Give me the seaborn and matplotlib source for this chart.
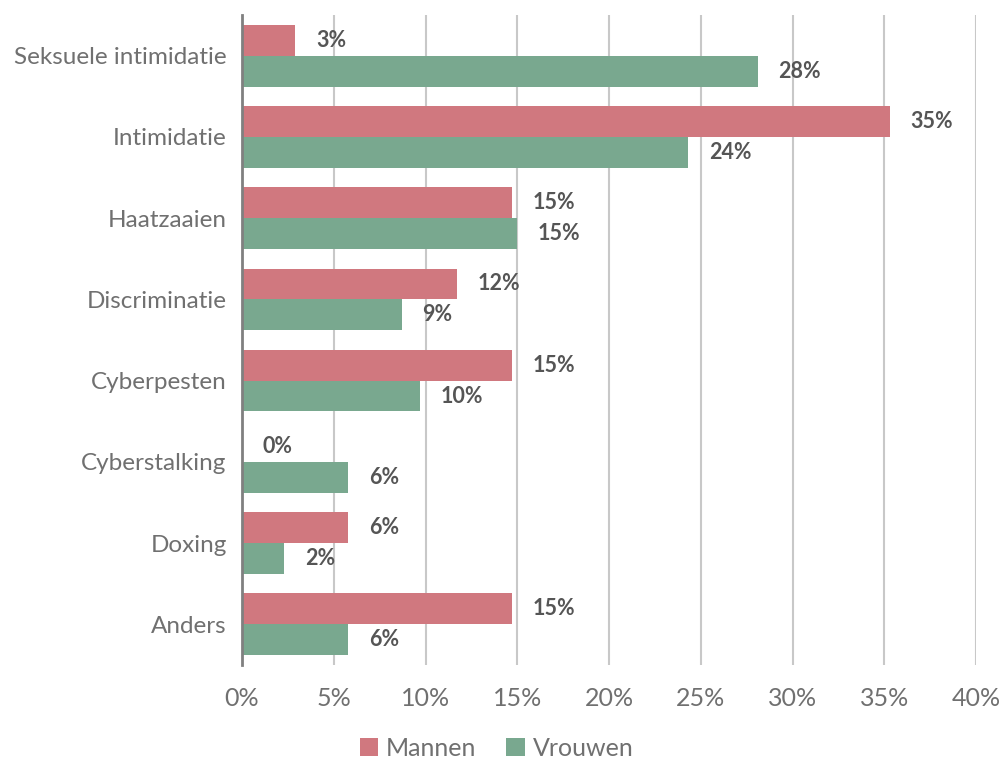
import matplotlib
matplotlib.use("Agg")
import matplotlib.pyplot as plt
import matplotlib.ticker as mticker
import seaborn as sns
import pandas as pd

# Share of respondents per type of online harassment, by gender (percent)
categories = ["Seksuele intimidatie", "Intimidatie", "Haatzaaien", "Discriminatie",
              "Cyberpesten", "Cyberstalking", "Doxing", "Anders"]
mannen = [2.9, 35.3, 14.7, 11.7, 14.7, 0.0, 5.8, 14.7]
vrouwen = [28.1, 24.3, 15.0, 8.7, 9.7, 5.8, 2.3, 5.8]
series = ["Mannen", "Vrouwen"]
colors = ["#D0787F", "#79A88F"]
x_ticks = [0, 5, 10, 15, 20, 25, 30, 35, 40]

df = pd.DataFrame({
    "categorie": categories * 2,
    "pct": mannen + vrouwen,
    "geslacht": [series[0]] * len(categories) + [series[1]] * len(categories),
})

sns.set_theme(style="white")
plt.rcParams["font.family"] = ["Lato", "DejaVu Sans"]

fig = plt.figure(figsize=(10.03, 7.58), dpi=100)
ax = fig.add_axes([0.2413, 0.1227, 0.7318, 0.8575])

sns.barplot(data=df, y="categorie", x="pct", hue="geslacht", order=categories,
            hue_order=series, palette=colors, orient="h", width=0.76,
            saturation=1, errorbar=None, linewidth=0, ax=ax)

for cont in ax.containers:
    ax.bar_label(cont, labels=[f"{v:.0f}%" for v in cont.datavalues],
                 padding=15, fontsize=15.5, fontweight="bold", color="#555555")

ax.set_xlim(0, 40)
ax.set_ylim(len(categories) - 0.5, -0.5)
ax.set_xticks(x_ticks)
ax.xaxis.set_major_formatter(mticker.FuncFormatter(lambda v, p: f"{v:.0f}%"))
ax.set_xlabel("")
ax.set_ylabel("")
ax.grid(axis="x", color="#C8C8C8", linewidth=1.5)
ax.set_axisbelow(True)
for side in ["top", "right", "bottom"]:
    ax.spines[side].set_visible(False)
ax.spines["left"].set_color("#808080")
ax.spines["left"].set_linewidth(2)
ax.tick_params(axis="x", labelsize=18, colors="#707070", length=0, pad=16)
ax.tick_params(axis="y", labelsize=17.5, colors="#707070", length=0, pad=11)

handles, labels = ax.get_legend_handles_labels()
ax.legend_.remove()
fig.legend(handles, labels, loc="center", bbox_to_anchor=(0.495, 0.013),
           ncol=2, frameon=False, fontsize=18, labelcolor="#707070",
           handlelength=0.75, handleheight=0.75, handletextpad=0.3,
           columnspacing=1.2, borderpad=0.1)

fig.savefig("out.png", dpi=100)
